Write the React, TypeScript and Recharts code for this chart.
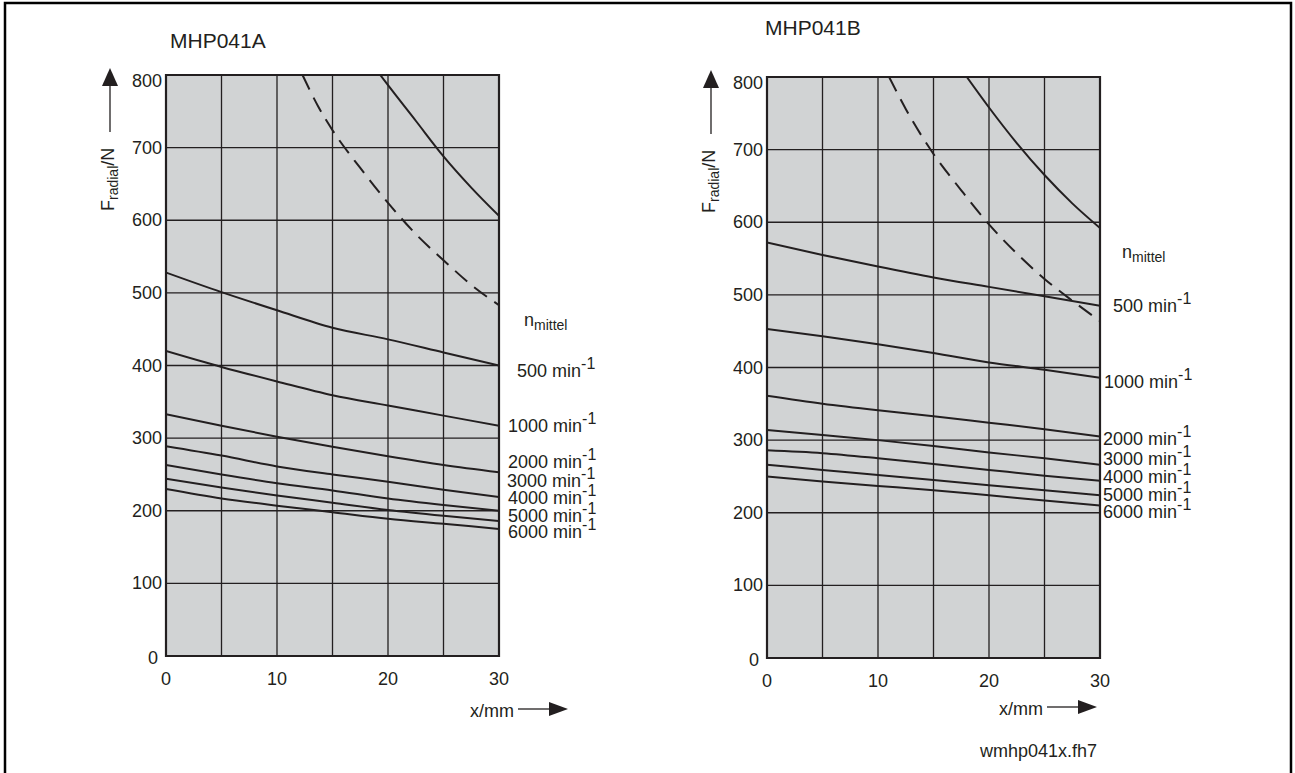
import React from 'react';
import { LineChart, Line, XAxis, YAxis, CartesianGrid, ReferenceArea } from 'recharts';

const FONT = '"Liberation Sans", Arial, Helvetica, sans-serif';
const INK = '#231f20';
const PANEL = '#d1d3d4';

// x positions where the speed curves were read (mm)
const xSteps = [0, 5, 10, 15, 20, 25, 30];
const xTicks = [0, 5, 10, 15, 20, 25, 30];
const yTicks = [0, 100, 200, 300, 400, 500, 600, 700, 800];
const speeds = ['500', '1000', '2000', '3000', '4000', '5000', '6000'];

// MHP041A, F_radial in N per speed, at xSteps
const speedA = [
  [528, 501, 476, 452, 436, 418, 400],
  [420, 398, 378, 359, 345, 331, 317],
  [333, 317, 302, 288, 275, 263, 253],
  [289, 276, 261, 250, 240, 229, 219],
  [263, 250, 238, 228, 217, 208, 200],
  [244, 232, 221, 211, 201, 193, 186],
  [230, 217, 207, 198, 189, 182, 175],
];
const limitSolidAx = [19.3, 20, 22.5, 25, 27.5, 30];
const limitSolidAy = [800, 786, 737, 688, 645, 606];
const limitDashAx = [12.3, 13.7, 15, 17.5, 20, 22.5, 25, 27.5, 30];
const limitDashAy = [800, 757, 724, 672, 624, 581, 545, 511, 483];

// MHP041B
const speedB = [
  [572, 555, 539, 524, 511, 498, 485],
  [453, 443, 432, 420, 407, 397, 386],
  [361, 350, 341, 333, 324, 315, 305],
  [314, 307, 300, 292, 283, 275, 266],
  [286, 282, 275, 267, 259, 251, 244],
  [266, 259, 252, 245, 238, 231, 224],
  [250, 243, 237, 231, 224, 217, 210],
];
const limitSolidBx = [18.0, 20, 22.5, 25, 27.5, 30];
const limitSolidBy = [800, 758, 709, 665, 626, 592];
const limitDashBx = [11.0, 12.5, 15, 17.5, 20, 22.5, 25, 27.5, 30];
const limitDashBy = [800, 756, 694, 644, 597, 557, 522, 492, 464];

// label layout (page px)
const labelBaseA = [377, 432, 468, 487, 504, 522, 538];
const labelXA = [517, 508, 508, 507, 508, 508, 508];
const labelBaseB = [312, 388, 445, 465, 483, 501, 518];
const labelXB = [1113, 1104, 1103, 1103, 1103, 1103, 1103];

const XTick = (props: any) => {
  const { x, y, payload } = props;
  if (payload.value % 10 !== 0) return <g />;
  return (
    <text x={x} y={y + 29} textAnchor="middle" fontSize={18} fill={INK} fontFamily={FONT}>
      {payload.value}
    </text>
  );
};

const YTick = (props: any) => {
  const { x, y, payload } = props;
  let dy = 6;
  let dx = -4;
  if (payload.value === 800) dy = 12;
  if (payload.value === 0) { dy = 8; dx = -8; }
  return (
    <text x={x + dx} y={y + dy} textAnchor="end" fontSize={18} fill={INK} fontFamily={FONT}>
      {payload.value}
    </text>
  );
};

const toPoints = (xs: number[], ys: number[]) => xs.map((x, i) => ({ x, y: ys[i] }));

function Panel({ left, top, speedVals, solid, dash }: any) {
  const rows = xSteps.map((x, i) => {
    const row: any = { x };
    speedVals.forEach((s: number[], k: number) => { row['s' + k] = s[i]; });
    return row;
  });
  const plotH = 581;
  return (
    <div style={{ position: 'absolute', left, top: 0 }}>
      <LineChart
        width={600}
        height={773}
        data={rows}
        margin={{ top, right: 101, bottom: 773 - top - plotH - 30, left: 106 }}
      >
        <CartesianGrid fill={PANEL} fillOpacity={1} stroke={INK} strokeWidth={1.3} />
        <XAxis
          type="number"
          dataKey="x"
          domain={[0, 30]}
          ticks={xTicks}
          tick={<XTick />}
          tickLine={false}
          axisLine={false}
          tickSize={0}
          tickMargin={0}
          height={30}
          allowDataOverflow
        />
        <YAxis
          type="number"
          domain={[0, 800]}
          ticks={yTicks}
          tick={<YTick />}
          tickLine={false}
          axisLine={false}
          tickSize={0}
          tickMargin={0}
          width={60}
          allowDataOverflow
        />
        <ReferenceArea x1={0} x2={30} y1={0} y2={800} fill="none" stroke={INK} strokeWidth={2.2} ifOverflow="visible" />
        {speedVals.map((_: any, k: number) => (
          <Line key={k} dataKey={'s' + k} type="monotone" stroke={INK} strokeWidth={2} dot={false} isAnimationActive={false} />
        ))}
        <Line data={solid} dataKey="y" type="monotone" stroke={INK} strokeWidth={2} dot={false} isAnimationActive={false} />
        <Line data={dash} dataKey="y" type="monotone" stroke={INK} strokeWidth={2} strokeDasharray="16 9" dot={false} isAnimationActive={false} />
      </LineChart>
    </div>
  );
}

function YLabel({ ax, top }: { ax: number; top: number }) {
  return (
    <g>
      <line x1={ax} y1={top + 11} x2={ax} y2={top + 57} stroke={INK} strokeWidth={1.3} />
      <polygon points={`${ax},${top - 7} ${ax - 8},${top + 11} ${ax + 8},${top + 11}`} fill={INK} />
      <text
        x={ax + 4}
        y={top + 136}
        transform={`rotate(-90, ${ax + 4}, ${top + 136})`}
        fontSize={18}
        fill={INK}
        fontFamily={FONT}
      >
        F<tspan fontSize={14} dy={4}>radial</tspan><tspan fontSize={18} dy={-4}>/N</tspan>
      </text>
    </g>
  );
}

function XLabel({ tx, lineX1, tipX, y }: { tx: number; lineX1: number; tipX: number; y: number }) {
  return (
    <g>
      <text x={tx} y={y + 8} fontSize={18} fill={INK} fontFamily={FONT}>x/mm</text>
      <line x1={lineX1} y1={y} x2={tipX - 18} y2={y} stroke={INK} strokeWidth={1.3} />
      <polygon points={`${tipX},${y} ${tipX - 19},${y - 7} ${tipX - 19},${y + 7}`} fill={INK} />
    </g>
  );
}

function SpeedLabels({ xs, bases, nx, ny }: { xs: number[]; bases: number[]; nx: number; ny: number }) {
  return (
    <g fontFamily={FONT} fill={INK}>
      <text x={nx} y={ny} fontSize={18}>
        n<tspan fontSize={14} dy={4}>mittel</tspan>
      </text>
      {speeds.map((s, i) => (
        <text key={s} x={xs[i]} y={bases[i]} fontSize={18}>
          {s} min<tspan fontSize={16} dy={-8}>-1</tspan>
        </text>
      ))}
    </g>
  );
}

export default function App() {
  return (
    <div style={{ position: 'absolute', left: 0, top: 0, width: 1295, height: 773, background: '#fff', overflow: 'hidden' }}>
      <Panel
        left={0}
        top={75}
        speedVals={speedA}
        solid={toPoints(limitSolidAx, limitSolidAy)}
        dash={toPoints(limitDashAx, limitDashAy)}
      />
      <Panel
        left={601}
        top={77}
        speedVals={speedB}
        solid={toPoints(limitSolidBx, limitSolidBy)}
        dash={toPoints(limitDashBx, limitDashBy)}
      />
      <svg width={1295} height={773} style={{ position: 'absolute', left: 0, top: 0, pointerEvents: 'none' }}>
        <path d="M5,780 V3 H1291 V780" fill="none" stroke="#000" strokeWidth={2.5} />
        <text x={170} y={48} fontSize={21} fill={INK} fontFamily={FONT}>MHP041A</text>
        <text x={765} y={35} fontSize={21} fill={INK} fontFamily={FONT}>MHP041B</text>
        <YLabel ax={110} top={75} />
        <YLabel ax={711} top={77} />
        <XLabel tx={470} lineX1={518} tipX={568} y={709} />
        <XLabel tx={999} lineX1={1047} tipX={1097} y={707} />
        <SpeedLabels xs={labelXA} bases={labelBaseA} nx={524} ny={326} />
        <SpeedLabels xs={labelXB} bases={labelBaseB} nx={1122} ny={258} />
        <text x={980} y={757} fontSize={18} fill={INK} fontFamily={FONT}>wmhp041x.fh7</text>
      </svg>
    </div>
  );
}
